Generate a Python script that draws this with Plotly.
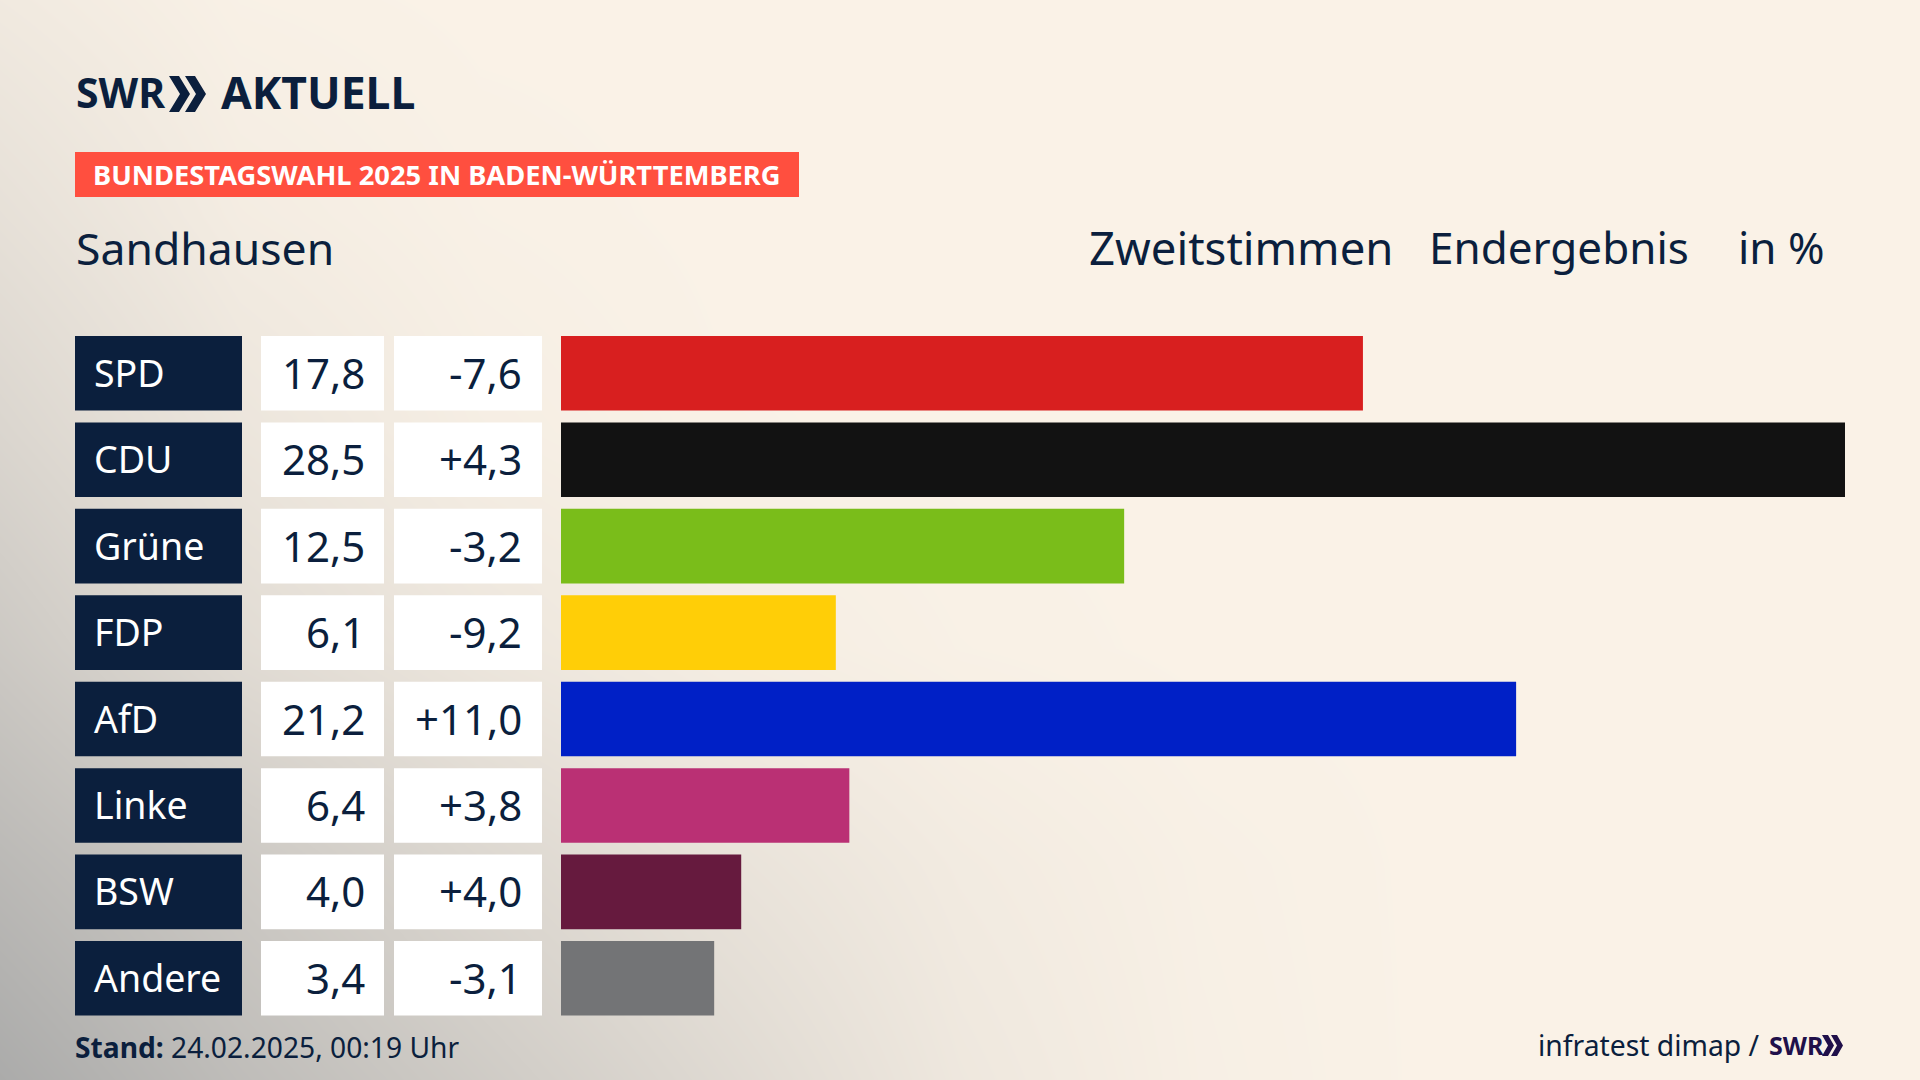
import plotly.graph_objects as go

parties = ['SPD', 'CDU', 'Grüne', 'FDP', 'AfD', 'Linke', 'BSW', 'Andere']
results = [17.8, 28.5, 12.5, 6.1, 21.2, 6.4, 4.0, 3.4]
changes = [-7.6, 4.3, -3.2, -9.2, 11.0, 3.8, 4.0, -3.1]
party_colors = ['#D81F1F', '#121212', '#7ABD1A', '#FFCE07', '#0020C6', '#BA3074', '#661A3E', '#737476']

# backdrop: how grey the cream gets (rows top to bottom)
bg_x = [0, 240, 480, 720, 960, 1200, 1440, 1680, 1920]
bg_y = [0, 216, 432, 648, 864, 1080]
bg_grey = [
    [.12, .02, 0, 0, 0, 0, 0, 0, 0],
    [.25, .08, .02, 0, 0, 0, 0, 0, 0],
    [.40, .18, .06, .01, 0, 0, 0, 0, 0],
    [.58, .32, .17, .07, .02, 0, 0, 0, 0],
    [.80, .58, .38, .22, .10, .03, 0, 0, 0],
    [1.0, .75, .55, .35, .15, .04, 0, 0, 0],
]

W, H = 1920, 1080
NAVY = '#0B1F3D'
CREAM = '#FAF2E7'
FONT = 'Noto Sans'


def fx(px):
    return px / W


def fy(px):
    return 1 - px / H


def label(x, y, text, size, color=NAVY, anchor='left', yref='paper', yshift=0):
    return dict(x=fx(x), y=y, xref='paper', yref=yref, text=text, showarrow=False,
                xanchor=anchor, yanchor='middle', align=anchor, yshift=yshift,
                font=dict(family=FONT, size=size, color=color))


def fmt(v, sign=False):
    s = f'{v:+.1f}' if sign else f'{v:.1f}'
    return s.replace('.', ',')


def chevrons(x, top, bottom, w, gap, thick, color):
    # the two arrows of the SWR logo
    mid = (top + bottom) / 2
    out = []
    for i in range(2):
        x0 = x + i * gap
        path = (f'M {fx(x0)} {fy(top)} L {fx(x0 + thick)} {fy(top)} L {fx(x0 + w)} {fy(mid)} '
                f'L {fx(x0 + thick)} {fy(bottom)} L {fx(x0)} {fy(bottom)} L {fx(x0 + w - thick)} {fy(mid)} Z')
        out.append(dict(type='path', path=path, xref='paper', yref='paper', fillcolor=color, line_width=0))
    return out


fig = go.Figure()

fig.add_trace(go.Heatmap(
    x=bg_x, y=bg_y, z=bg_grey, zmin=0, zmax=1, zsmooth='best', showscale=False, hoverinfo='skip',
    colorscale=[[0, CREAM], [1, '#ABABAA']], xaxis='x', yaxis='y',
))

fig.add_trace(go.Bar(
    x=results, y=parties, orientation='h', marker=dict(color=party_colors, line_width=0),
    width=0.863, xaxis='x2', yaxis='y2', hoverinfo='skip',
))

shapes = []
annotations = []

# table columns left of the bars
half = 0.4315
for i, party in enumerate(parties):
    for x0, x1, col in [(75, 242, NAVY), (261, 384, 'white'), (394, 542, 'white')]:
        shapes.append(dict(type='rect', xref='paper', yref='y2', x0=fx(x0), x1=fx(x1),
                           y0=i - half, y1=i + half, fillcolor=col, line_width=0))
    annotations.append(label(92, i, party, 37.5, 'white', yref='y2', yshift=1))
    annotations.append(label(366.5, i, fmt(results[i]), 42, anchor='right', yref='y2', yshift=1))
    annotations.append(label(524, i, fmt(changes[i], sign=True), 42, anchor='right', yref='y2', yshift=1))

# badge
shapes.append(dict(type='rect', xref='paper', yref='paper', x0=fx(75), x1=fx(799), y0=fy(197), y1=fy(152),
                   fillcolor='#FF4F3F', line_width=0))
annotations.append(label(91, fy(175), '<b>BUNDESTAGSWAHL 2025 IN BADEN-WÜRTTEMBERG</b>', 27.3, 'white'))

# logo
annotations.append(label(74, fy(92), '<b>SWR</b>', 41))
annotations.append(label(219, fy(92), '<b>AKTUELL</b>', 44.5))
shapes += chevrons(169, 76, 112, 21, 16, 10, NAVY)

# headers
annotations.append(label(74, fy(247), 'Sandhausen', 44.5))
annotations.append(label(1087, fy(247), 'Zweitstimmen', 45.5))
annotations.append(label(1427, fy(247), 'Endergebnis', 44))
annotations.append(label(1736, fy(247), 'in %', 44))

# footer
annotations.append(label(73, fy(1047), '<b>Stand:</b> 24.02.2025, 00:19 Uhr', 28.2))
annotations.append(label(1762, fy(1045), 'infratest dimap /', 28.3, anchor='right'))
annotations.append(label(1767, fy(1045), '<b>SWR</b>', 25, '#20104A'))
shapes += chevrons(1822, 1035, 1056, 12, 9, 6, '#20104A')

fig.update_layout(
    width=W, height=H, margin=dict(l=0, r=0, t=0, b=0), showlegend=False,
    paper_bgcolor=CREAM, plot_bgcolor='rgba(0,0,0,0)',
    shapes=shapes, annotations=annotations,
    xaxis=dict(domain=[0, 1], range=[0, W], visible=False, fixedrange=True),
    yaxis=dict(domain=[0, 1], range=[H, 0], visible=False, fixedrange=True),
    xaxis2=dict(domain=[fx(561), fx(1845)], range=[0, 28.5], visible=False, anchor='y2'),
    yaxis2=dict(domain=[fy(1021.5), fy(330.1)], range=[7.5, -0.5], visible=False, anchor='x2',
                type='category', categoryorder='array', categoryarray=parties),
)

fig.write_html("out.html", config={'displayModeBar': False}, post_script="document.body.style.margin='0';")
